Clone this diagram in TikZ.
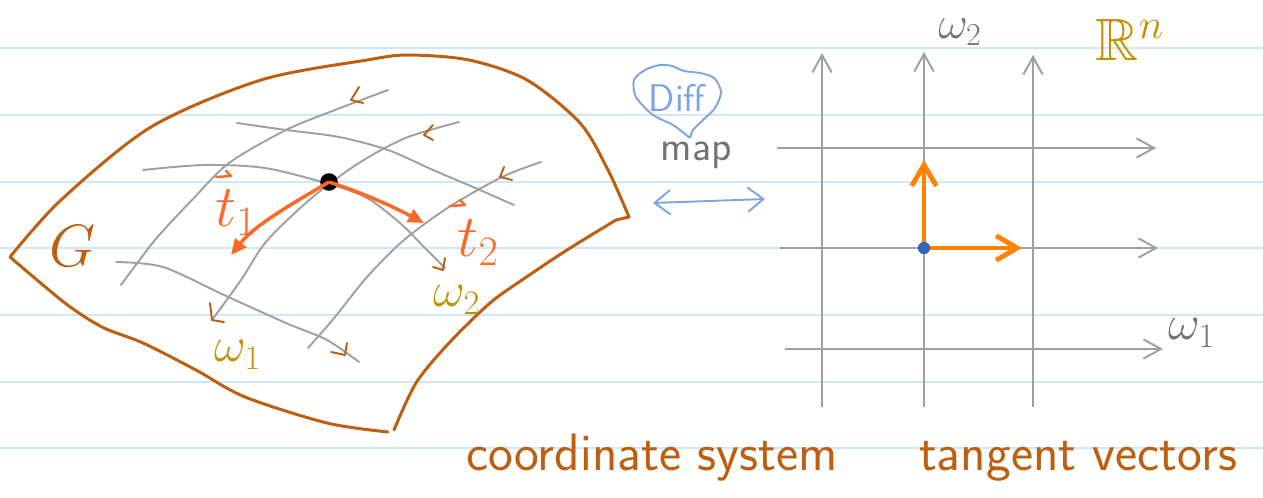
\documentclass[tikz,border=0pt]{standalone}
\usepackage{fix-cm}
\usepackage{amsmath,amssymb}
\usepackage{fontspec}
\usetikzlibrary{arrows.meta}
\definecolor{ruleblue}{RGB}{205,232,250}
\definecolor{rimbrown}{RGB}{190,95,15}
\definecolor{curvegray}{RGB}{160,160,160}
\definecolor{tangorange}{RGB}{255,105,40}
\definecolor{axisorange}{RGB}{255,130,0}
\definecolor{labelgold}{RGB}{195,145,0}
\definecolor{diffblue}{RGB}{125,165,225}
\definecolor{dotblue}{RGB}{50,100,190}
\definecolor{textgray}{RGB}{115,115,115}

\begin{document}
\begin{tikzpicture}[x=0.02cm,y=-0.02cm,
  ruling/.style={ruleblue,line width=0.8pt},
  rim/.style={rimbrown,line width=1.7pt,line cap=round,line join=round},
  curve/.style={curvegray,line width=1.1pt,line cap=round},
  brownhead/.style={rimbrown,line width=1.1pt,line cap=round,line join=round},
  tvec/.style={tangorange,line width=2pt,-{Triangle[length=9pt,width=8pt]}},
  vecbar/.style={tangorange,line width=1.4pt,line cap=round,line join=round},
  gridarrow/.style={curvegray,line width=1.1pt,-{Straight Barb[length=10pt,width=11pt,line width=1.1pt]}},
  axisvec/.style={axisorange,line width=2.8pt,line cap=round,-{Straight Barb[length=12pt,width=14pt,line width=2.8pt]}},
  bigfont/.style={font=\fontsize{34}{36}\selectfont},
  midfont/.style={font=\fontsize{28}{30}\selectfont},
  handfont/.style={font=\sffamily\fontsize{30}{32}\selectfont}]

\useasboundingbox (0,0) rectangle (1263,497);
% ruled paper
\foreach \y in {48,115,182,248,315,382,448}
  \draw[ruling] (0,\y) -- (1263,\y);

% region G
\draw[rim] plot[smooth] coordinates {(10,257) (61,200) (151,127) (261,80) (367,60) (408,55) (469,60) (527,80) (580,123) (608,170) (629,217)}
  -- (616,220);
\draw[rim] plot[smooth] coordinates {(616,220) (567,250) (522,280) (490,303) (449,343) (416,383) (394,430)};
\draw[rim] plot[smooth] coordinates {(388,432) (327,423) (245,397) (196,370) (143,343) (102,327) (65,303) (10,257)};

% curved coordinate lines
\draw[curve] plot[smooth] coordinates {(388,90) (335,110) (286,130) (229,163) (192,200) (155,240) (121,285)};
\draw[curve] plot[smooth] coordinates {(459,122) (408,137) (367,158) (329,184) (298,210) (265,243) (241,280) (212,320)};
\draw[curve] plot[smooth] coordinates {(541,162) (502,177) (449,207) (404,240) (367,277) (335,317) (308,348)};
\draw[curve] plot[smooth] coordinates {(237,123) (286,130) (339,137) (388,150) (433,170) (473,187) (514,205)};
\draw[curve] plot[smooth] coordinates {(143,170) (204,165) (265,168) (329,184) (367,198) (400,223) (424,247) (445,268)};
\draw[curve] plot[smooth] coordinates {(116,262) (163,267) (224,295) (286,323) (327,340) (359,362)};

% direction marks
\draw[brownhead] (359,87) -- (351,100) -- (363,103);
\draw[brownhead] (433,125) -- (424,135) -- (433,140);
\draw[brownhead] (504,167) -- (500,177) -- (512,180);
\draw[brownhead] (210,303) -- (212,320) -- (224,322);
\draw[brownhead] (445,258) -- (443,270) -- (433,267);
\draw[brownhead] (347,343) -- (345,355) -- (331,352);

% point and tangent vectors
\node[circle,fill=black,inner sep=0pt,minimum size=10pt] (pt) at (329,182) {};
\draw[tvec] (pt.center) .. controls (290,205) and (255,225) .. (231,255);
\draw[tvec] (pt.center) .. controls (360,192) and (390,205) .. (424,223);

\node[bigfont,text=tangorange] (t1lab) at (236,213) {$t_1$};
\node[bigfont,text=tangorange] (t2lab) at (478,243) {$t_2$};
\draw[vecbar] (216,177) -- (231,176) -- (226,171);
\draw[vecbar] (450,206) -- (465,205) -- (460,200);
\node[bigfont,text=rimbrown] (glab) at (73,246) {$G$};
\node[midfont,text=labelgold] (w1lab) at (238,355) {$\omega_1$};
\node[midfont,text=labelgold] (w2lab) at (457,300) {$\omega_2$};

% diffeomorphism
\draw[diffblue,line width=1.1pt,line join=round] plot[smooth] coordinates {(690,138) (673,125) (653,115) (636,97) (634,80) (645,70) (660,65) (672,66) (684,71) (700,73) (714,78) (721,92) (715,108) (703,120) (693,130) (690,138)};
\node[text=diffblue,font=\sffamily\fontsize{22}{24}\selectfont] (difflab) at (677,98) {Diff};
\node[font=\sffamily\fontsize{24}{26}\selectfont,text=textgray] (maplab) at (696,155) {map};
\coordinate (mapl) at (653,203);
\coordinate (mapr) at (765,199);
\draw[diffblue,line width=1.1pt,{Straight Barb[length=9pt,width=14pt,line width=1.1pt]}-{Straight Barb[length=9pt,width=14pt,line width=1.1pt]}] (mapl) -- (mapr);

% flat coordinates
\foreach \x/\top in {822/53,924/52,1033/55}
  \draw[gridarrow] (\x,407) -- (\x,\top);
\foreach \y/\a/\b in {148/777/1156,248/780/1158,349/785/1163}
  \draw[gridarrow] (\a,\y) -- (\b,\y);
\coordinate (o) at (924,248);
\draw[axisvec] (o) -- (924,160);
\draw[axisvec] (o) -- (1022,248);
\node[circle,fill=dotblue,inner sep=0pt,minimum size=7pt] (odot) at (o) {};
\node[font=\fontsize{26}{28}\selectfont,text=textgray,inner sep=0pt] (w2axis) at (960,32) {$\omega_2$};
\node[midfont,text=textgray] (w1axis) at (1192,333) {$\omega_1$};
\node[font=\fontsize{34}{36}\selectfont,text=labelgold,inner sep=0pt] (rnlab) at (1130,40) {$\mathbb{R}^n$};

\node[handfont,text=rimbrown,anchor=base] (cslab) at (652,470) {coordinate system};
\node[handfont,text=rimbrown,anchor=base] (tvlab) at (1078,470) {tangent vectors};
\end{tikzpicture}
\end{document}
